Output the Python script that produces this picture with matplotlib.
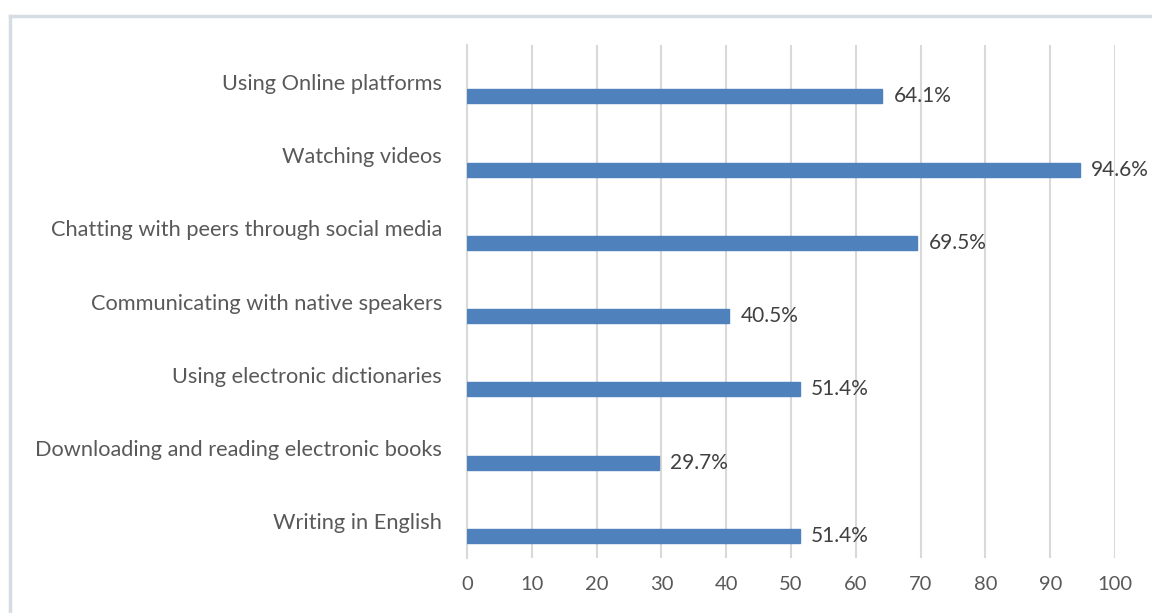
import matplotlib.pyplot as plt
from matplotlib.lines import Line2D

categories = [
    "Using Online platforms",
    "Watching videos",
    "Chatting with peers through social media",
    "Communicating with native speakers",
    "Using electronic dictionaries",
    "Downloading and reading electronic books",
    "Writing in English",
]
values = [64.1, 94.6, 69.5, 40.5, 51.4, 29.7, 51.4]
value_labels = ["64.1%", "94.6%", "69.5%", "40.5%", "51.4%", "29.7%", "51.4%"]
x_ticks = [0, 10, 20, 30, 40, 50, 60, 70, 80, 90, 100]

plt.rcParams["font.family"] = ["Lato", "DejaVu Sans"]

fig = plt.figure(figsize=(11.52, 6.13), dpi=100)
ax = fig.add_axes([467 / 1152, 1 - 558 / 613, (1115 - 467) / 1152, (558 - 45) / 613])

pos = list(range(len(categories)))
# bar sits in the lower part of each category slot, label at the slot centre
bar_pos = [p + 0.2 for p in pos]
ax.barh(bar_pos, values, height=0.19, color="#4F81BD", edgecolor="#4F81BD", zorder=3)

for y, v, lab in zip(bar_pos, values, value_labels):
    ax.text(v + 1.7, y, lab, va="center", ha="left", fontsize=15, color="#404040")

ax.set_xlim(0, 100)
ax.set_ylim(len(categories) - 0.5, -0.5)
ax.set_xticks(x_ticks)
ax.set_xticklabels([str(t) for t in x_ticks], fontsize=14.5, color="#595959")
ax.set_yticks(pos)
ax.set_yticklabels(categories, fontsize=15.7, color="#595959")
ax.tick_params(axis="both", length=0)
ax.tick_params(axis="x", pad=13)
ax.tick_params(axis="y", pad=18)

ax.grid(axis="x", color="#D9D9D9", linewidth=1.5, zorder=0)
for s in ["top", "right", "bottom"]:
    ax.spines[s].set_visible(False)
ax.spines["left"].set_color("#D9D9D9")
ax.spines["left"].set_linewidth(1.5)

# outer chart border (cut off at right and bottom in the original)
fig.add_artist(Line2D([10 / 1152, 10 / 1152], [0, 1 - 16 / 613], transform=fig.transFigure,
                      color="#D5DCE4", linewidth=2.5))
fig.add_artist(Line2D([10 / 1152, 1], [1 - 16 / 613, 1 - 16 / 613], transform=fig.transFigure,
                      color="#D5DCE4", linewidth=2.5))

fig.savefig("out.png", dpi=100)
